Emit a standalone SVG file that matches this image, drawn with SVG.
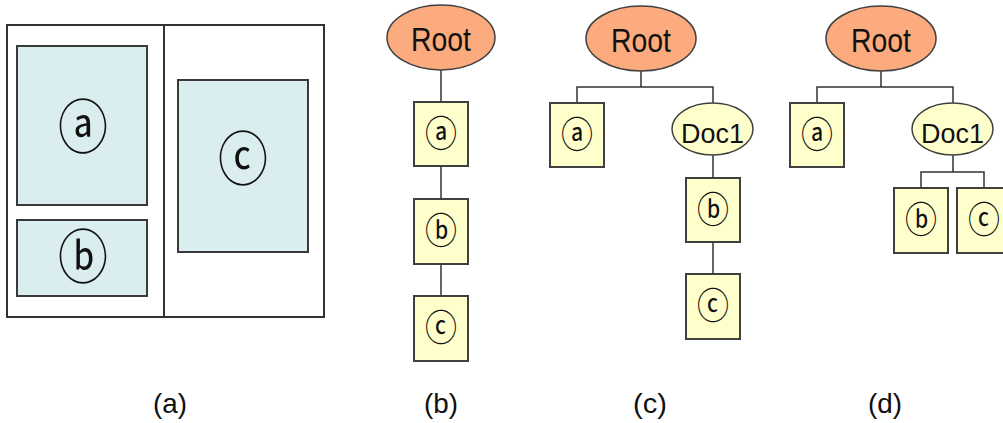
<svg xmlns="http://www.w3.org/2000/svg" width="1003" height="423" viewBox="0 0 1003 423">
<style>
.frame{fill:#fff;stroke:#333;stroke-width:2}
.area{fill:#daeef0;stroke:#3a3a3a;stroke-width:2}
.root{fill:#fbab7e;stroke:#404040;stroke-width:1.5}
.doc{fill:#ffffcc;stroke:#404040;stroke-width:1.5}
.box{fill:#ffffcc;stroke:#404040;stroke-width:2}
.wire{fill:none;stroke:#333;stroke-width:1.5}
.lbl{font-family:"Liberation Sans",sans-serif;fill:#111;text-anchor:middle}
.circ{font-family:"Noto Sans CJK KR","Noto Sans CJK SC",sans-serif;fill:#111;text-anchor:middle}
</style>
<rect width="1003" height="423" fill="#fff"/>
<g id="layout">
<rect class="frame" x="7" y="25" width="317" height="292"/>
<line x1="164" y1="25" x2="164" y2="317" stroke="#333" stroke-width="2"/>
<rect class="area" x="17" y="46" width="130" height="159"/>
<rect class="area" x="17" y="220" width="130" height="76"/>
<rect class="area" x="178" y="80" width="130" height="172"/>
<text class="circ" font-size="50" transform="translate(83,128) scale(1,1.15)" y="17">ⓐ</text>
<text class="circ" font-size="50" transform="translate(83,258) scale(1,1.15)" y="17">ⓑ</text>
<text class="circ" font-size="50" transform="translate(243,160) scale(1,1.15)" y="17">ⓒ</text>
</g>
<g id="connectors">
<line class="wire" x1="441" y1="70" x2="441" y2="102"/>
<line class="wire" x1="441" y1="166" x2="441" y2="199"/>
<line class="wire" x1="441" y1="264" x2="441" y2="296"/>
<path class="wire" d="M641 71V87M577 103V87H713V103"/>
<line class="wire" x1="713" y1="155" x2="713" y2="178"/>
<line class="wire" x1="713" y1="242" x2="713" y2="274"/>
<path class="wire" d="M881 71V87M817 103V87H953V103"/>
<path class="wire" d="M953 155V172M921 188V172H984V188"/>
</g>
<g id="b-root"><ellipse class="root" cx="441" cy="37.5" rx="54" ry="32.5"/><text class="lbl" x="441" y="51" font-size="33" textLength="60" lengthAdjust="spacingAndGlyphs">Root</text></g>
<g id="b-a"><rect class="box" x="414" y="102" width="54" height="64"/><text class="circ" font-size="32" transform="translate(441,134) scale(1,1.15)" y="11">ⓐ</text></g>
<g id="b-b"><rect class="box" x="414" y="199" width="54" height="65"/><text class="circ" font-size="32" transform="translate(441,231) scale(1,1.15)" y="11">ⓑ</text></g>
<g id="b-c"><rect class="box" x="414" y="296" width="54" height="65"/><text class="circ" font-size="32" transform="translate(441,328) scale(1,1.15)" y="11">ⓒ</text></g>
<g id="c-root"><ellipse class="root" cx="641" cy="38.5" rx="55" ry="32.5"/><text class="lbl" x="641" y="52" font-size="33" textLength="60" lengthAdjust="spacingAndGlyphs">Root</text></g>
<g id="c-a"><rect class="box" x="550" y="103" width="54" height="64"/><text class="circ" font-size="32" transform="translate(577,135) scale(1,1.15)" y="11">ⓐ</text></g>
<g id="c-doc1"><ellipse class="doc" cx="712.5" cy="129" rx="40.5" ry="26"/><text class="lbl" x="712.5" y="143" font-size="28" textLength="63" lengthAdjust="spacingAndGlyphs">Doc1</text></g>
<g id="c-b"><rect class="box" x="686" y="178" width="54" height="64"/><text class="circ" font-size="32" transform="translate(713,210) scale(1,1.15)" y="11">ⓑ</text></g>
<g id="c-c"><rect class="box" x="686" y="274" width="54" height="65"/><text class="circ" font-size="32" transform="translate(713,306) scale(1,1.15)" y="11">ⓒ</text></g>
<g id="d-root"><ellipse class="root" cx="881" cy="38.5" rx="55" ry="32.5"/><text class="lbl" x="881" y="52" font-size="33" textLength="60" lengthAdjust="spacingAndGlyphs">Root</text></g>
<g id="d-a"><rect class="box" x="790" y="103" width="54" height="64"/><text class="circ" font-size="32" transform="translate(817,135) scale(1,1.15)" y="11">ⓐ</text></g>
<g id="d-doc1"><ellipse class="doc" cx="952.5" cy="129" rx="40.5" ry="26"/><text class="lbl" x="952.5" y="143" font-size="28" textLength="63" lengthAdjust="spacingAndGlyphs">Doc1</text></g>
<g id="d-b"><rect class="box" x="894" y="188" width="54" height="65"/><text class="circ" font-size="32" transform="translate(921,220) scale(1,1.15)" y="11">ⓑ</text></g>
<g id="d-c"><rect class="box" x="957" y="188" width="54" height="65"/><text class="circ" font-size="32" transform="translate(984,220) scale(1,1.15)" y="11">ⓒ</text></g>
<g id="captions">
<text class="lbl" x="170" y="413" font-size="28" textLength="34" lengthAdjust="spacingAndGlyphs">(a)</text>
<text class="lbl" x="441" y="413" font-size="28" textLength="34" lengthAdjust="spacingAndGlyphs">(b)</text>
<text class="lbl" x="650" y="413" font-size="28" textLength="34" lengthAdjust="spacingAndGlyphs">(c)</text>
<text class="lbl" x="885" y="413" font-size="28" textLength="34" lengthAdjust="spacingAndGlyphs">(d)</text>
</g>
</svg>
